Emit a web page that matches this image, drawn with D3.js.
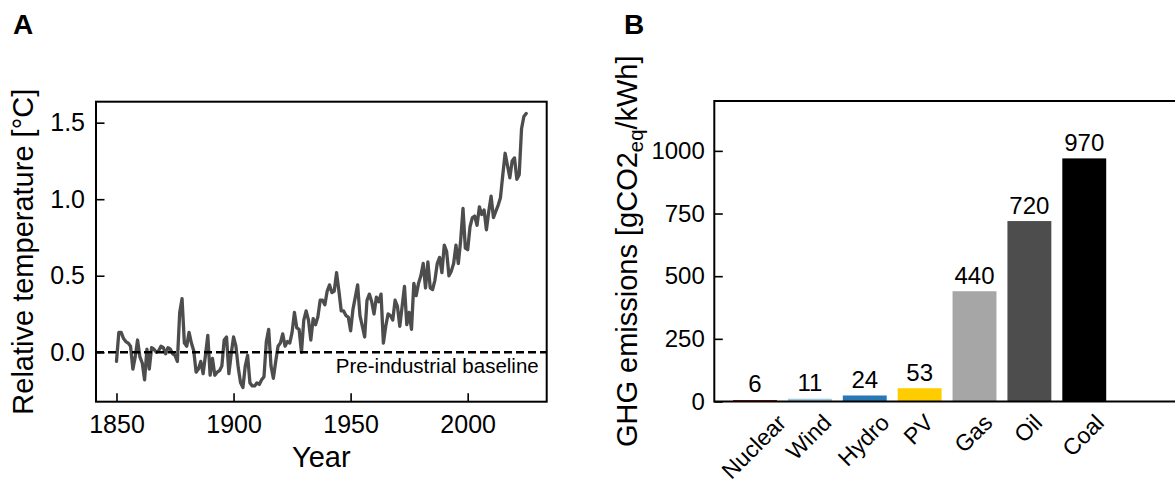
<!DOCTYPE html>
<html>
<head>
<meta charset="utf-8">
<script src="https://cdn.jsdelivr.net/npm/d3@7"></script>
<style>
  html, body { margin: 0; padding: 0; background: #fff; }
  svg { display: block; font-family: "Liberation Sans", Arial, sans-serif; }
</style>
</head>
<body>
<svg id="chart" width="1175" height="486"></svg>
<script>
// ---------------- Panel A data ----------------
const startYear = 1850;
const temps = [
  -0.06, 0.13, 0.13, 0.09, 0.07, 0.06, 0.04, -0.11, -0.03, 0.08,
  -0.03, -0.07, -0.18, 0.02, -0.11, 0.03, 0.02, 0.00, 0.01, 0.04,
  0.03, -0.01, 0.03, 0.02, -0.01, -0.02, -0.06, 0.26, 0.35, 0.06,
  0.04, 0.13, 0.06, 0.01, -0.13, -0.11, -0.06, -0.14, -0.02, 0.11,
  -0.15, -0.04, -0.15, -0.13, -0.12, -0.09, 0.08, 0.10, -0.14, -0.01,
  0.10, 0.04, -0.10, -0.20, -0.23, -0.09, -0.02, -0.20, -0.22, -0.22,
  -0.20, -0.21, -0.18, -0.16, 0.07, 0.15, -0.09, -0.17, -0.06, 0.04,
  0.06, 0.12, 0.04, 0.07, 0.06, 0.13, 0.26, 0.16, 0.15, 0.00,
  0.21, 0.27, 0.21, 0.08, 0.22, 0.18, 0.23, 0.34, 0.34, 0.31,
  0.40, 0.44, 0.39, 0.40, 0.52, 0.40, 0.27, 0.27, 0.24, 0.23,
  0.14, 0.28, 0.36, 0.44, 0.24, 0.17, 0.10, 0.34, 0.38, 0.33,
  0.25, 0.36, 0.33, 0.38, 0.06, 0.17, 0.25, 0.24, 0.21, 0.34,
  0.30, 0.17, 0.30, 0.43, 0.18, 0.26, 0.15, 0.45, 0.37, 0.45,
  0.50, 0.58, 0.42, 0.59, 0.42, 0.41, 0.47, 0.58, 0.62, 0.52,
  0.70, 0.66, 0.50, 0.53, 0.58, 0.70, 0.58, 0.73, 0.94, 0.68,
  0.67, 0.82, 0.88, 0.89, 0.83, 0.95, 0.90, 0.93, 0.80, 0.92,
  1.02, 0.88, 0.92, 0.96, 1.01, 1.16, 1.30, 1.22, 1.14, 1.25,
  1.27, 1.13, 1.16, 1.46, 1.54, 1.56
];
const years = temps.map((_, i) => startYear + i);
const yearTicks = [1850, 1900, 1950, 2000];
const tempTicks = [0.0, 0.5, 1.0, 1.5];
const baselineValue = 0;
const baselineLabel = "Pre-industrial baseline";

// ---------------- Panel B data ----------------
const sources = ["Nuclear", "Wind", "Hydro", "PV", "Gas", "Oil", "Coal"];
const emissions = [6, 11, 24, 53, 440, 720, 970];
const sourceColors = ["#a50f15", "#9ecae1", "#2878b5", "#ffcc00", "#a6a6a6", "#4d4d4d", "#000000"];
const emissionTicks = [0, 250, 500, 750, 1000];

const svg = d3.select("#chart");
svg.append("rect").attr("width", 1175).attr("height", 486).attr("fill", "#fff");

const TICK_FS_A = 25, TICK_FS = 24, LABEL_FS = 29;

// ================= Panel A =================
const A = { left: 96, right: 546.7, top: 101.7, bottom: 401.7 };
const xA = d3.scaleLinear().domain([1841.25, 2033.75]).range([A.left, A.right]);
const yA = d3.scaleLinear().domain([-0.323, 1.637]).range([A.bottom, A.top]);

const gA = svg.append("g");
const clipA = svg.append("clipPath").attr("id", "clipA");
clipA.append("rect").attr("x", A.left).attr("y", A.top).attr("width", A.right - A.left).attr("height", A.bottom - A.top);

gA.append("path")
  .datum(temps)
  .attr("clip-path", "url(#clipA)")
  .attr("fill", "none")
  .attr("stroke", "#4d4d4d")
  .attr("stroke-width", 3.3)
  .attr("stroke-linejoin", "round")
  .attr("stroke-linecap", "round")
  .attr("d", d3.line().x((d, i) => xA(years[i])).y(d => yA(d)));

gA.append("line")
  .attr("x1", A.left).attr("x2", A.right)
  .attr("y1", yA(baselineValue)).attr("y2", yA(baselineValue))
  .attr("stroke", "#000").attr("stroke-width", 2.5)
  .attr("stroke-dasharray", "8,4");

gA.append("text")
  .attr("x", A.right - 8).attr("y", yA(baselineValue) + 20.5)
  .attr("text-anchor", "end")
  .attr("font-size", 20.5)
  .attr("fill", "#000")
  .text(baselineLabel);

const axA_x = d3.axisBottom(xA).tickValues(yearTicks).tickFormat(d3.format("d")).tickSize(-8.5).tickPadding(14);
const axA_y = d3.axisLeft(yA).tickValues(tempTicks).tickFormat(d3.format(".1f")).tickSize(-8.5).tickPadding(11);

const gxA = gA.append("g").attr("transform", `translate(0,${A.bottom})`).call(axA_x);
const gyA = gA.append("g").attr("transform", `translate(${A.left},0)`).call(axA_y);
[gxA, gyA].forEach(g => {
  g.select(".domain").remove();
  g.selectAll(".tick line").attr("stroke", "#000").attr("stroke-width", 1.6);
  g.selectAll(".tick text").attr("font-size", TICK_FS_A).attr("fill", "#000")
    .attr("font-family", "'Liberation Sans', Arial, sans-serif");
});

gA.append("rect")
  .attr("x", A.left).attr("y", A.top)
  .attr("width", A.right - A.left).attr("height", A.bottom - A.top)
  .attr("fill", "none").attr("stroke", "#000").attr("stroke-width", 2);

gA.append("text")
  .attr("x", (A.left + A.right) / 2).attr("y", 467)
  .attr("text-anchor", "middle").attr("font-size", LABEL_FS)
  .text("Year");

gA.append("text")
  .attr("transform", `translate(33,${(A.top + A.bottom) / 2}) rotate(-90)`)
  .attr("text-anchor", "middle").attr("font-size", LABEL_FS)
  .text("Relative temperature [°C]");

svg.append("text").attr("x", 13).attr("y", 34)
  .attr("font-size", 28).attr("font-weight", "bold").text("A");

// ================= Panel B =================
const B = { left: 714.3, right: 1194, top: 101, bottom: 401.5 };
const xB = d3.scaleLinear().domain([-0.742, 8]).range([B.left, B.right]);
const yB = d3.scaleLinear().domain([0, 1199]).range([B.bottom, B.top]);
const barW = xB(0.8) - xB(0);

const gB = svg.append("g");

gB.selectAll("rect.bar")
  .data(emissions)
  .join("rect")
  .attr("class", "bar")
  .attr("x", (d, i) => xB(i) - barW / 2)
  .attr("y", d => yB(d))
  .attr("width", barW)
  .attr("height", d => yB(0) - yB(d))
  .attr("fill", (d, i) => sourceColors[i]);

gB.selectAll("text.val")
  .data(emissions)
  .join("text")
  .attr("class", "val")
  .attr("x", (d, i) => xB(i))
  .attr("y", d => yB(d) - 7.5)
  .attr("text-anchor", "middle")
  .attr("font-size", TICK_FS)
  .text(d => d);

const axB_y = d3.axisLeft(yB).tickValues(emissionTicks).tickFormat(d3.format("d")).tickSize(-8.5).tickPadding(9.5);
const gyB = gB.append("g").attr("transform", `translate(${B.left},0)`).call(axB_y);
gyB.select(".domain").remove();
gyB.selectAll(".tick line").attr("stroke", "#000").attr("stroke-width", 1.6);
gyB.selectAll(".tick text").attr("font-size", TICK_FS).attr("fill", "#000")
  .attr("font-family", "'Liberation Sans', Arial, sans-serif");

// rotated category labels: ink bbox centred under each bar, top just below axis
const CAT_FS = 23;
const capH = CAT_FS * 0.72;
const catG = gB.append("g");
sources.forEach((s, i) => {
  const t = catG.append("text")
    .attr("font-size", CAT_FS)
    .attr("text-anchor", "end")
    .text(s);
  const w = t.node().getComputedTextLength();
  const px = xB(i) + Math.SQRT1_2 * (w + capH) / 2 - 1.5;
  const py = B.bottom + 11 + Math.SQRT1_2 * capH;
  t.attr("transform", `translate(${px},${py}) rotate(-45)`);
});

gB.append("rect")
  .attr("x", B.left).attr("y", B.top)
  .attr("width", B.right - B.left).attr("height", B.bottom - B.top)
  .attr("fill", "none").attr("stroke", "#000").attr("stroke-width", 2);

const ylab = gB.append("text")
  .attr("transform", `translate(637,${(B.top + B.bottom) / 2}) rotate(-90)`)
  .attr("text-anchor", "middle").attr("font-size", LABEL_FS);
ylab.append("tspan").text("GHG emissions [gCO2");
ylab.append("tspan").attr("font-size", LABEL_FS * 0.7).attr("dy", 6).text("eq");
ylab.append("tspan").attr("dy", -6).text("/kWh]");

svg.append("text").attr("x", 624).attr("y", 34)
  .attr("font-size", 28).attr("font-weight", "bold").text("B");
</script>
</body>
</html>
